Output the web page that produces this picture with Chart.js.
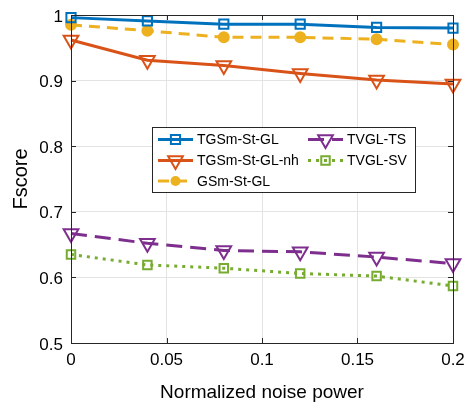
<!DOCTYPE html>
<html>
<head>
<meta charset="utf-8">
<script src="https://cdn.jsdelivr.net/npm/chart.js@4/dist/chart.umd.min.js"></script>
<style>
  html, body { margin: 0; padding: 0; background: #fff; }
  #wrap { width: 466px; height: 404px; }
</style>
</head>
<body>
<div id="wrap"><canvas id="fscoreChart" width="466" height="404"></canvas></div>
<script>
const noisePower = [0, 0.04, 0.08, 0.12, 0.16, 0.2];
const tgsmStGl = [0.996, 0.991, 0.986, 0.986, 0.981, 0.980];
const tgsmStGlNh = [0.962, 0.931, 0.923, 0.911, 0.901, 0.895];
const gsmStGl = [0.985, 0.976, 0.966, 0.966, 0.963, 0.955];
const tvglTs = [0.667, 0.652, 0.641, 0.639, 0.631, 0.621];
const tvglSv = [0.635, 0.619, 0.614, 0.606, 0.602, 0.587];
const xTicks = [0, 0.05, 0.1, 0.15, 0.2];
const yTicks = [0.5, 0.6, 0.7, 0.8, 0.9, 1];

const FONT = '"Liberation Sans", Arial, Helvetica, sans-serif';
const AXIS = '#262626';

function pts(ys) {
    return noisePower.map((x, i) => ({ x: x, y: ys[i] }));
}

const series = [
    { label: 'TGSm-St-GL', data: tgsmStGl, color: '#0072BD', dash: [], style: 'rect', r: 6.5, rot: 0, fill: false },
    { label: 'TGSm-St-GL-nh', data: tgsmStGlNh, color: '#D95319', dash: [], style: 'triangle', r: 8.5, rot: 180, fill: false },
    { label: 'GSm-St-GL', data: gsmStGl, color: '#EDB120', dash: [11, 7], style: 'circle', r: 5, rot: 0, fill: true },
    { label: 'TVGL-TS', data: tvglTs, color: '#7E2F8E', dash: [16, 8], style: 'triangle', r: 8.5, rot: 180, fill: false },
    { label: 'TVGL-SV', data: tvglSv, color: '#77AC30', dash: [3, 5], style: 'rect', r: 6, rot: 0, fill: false }
];

// inward ticks on all four sides + box top/right
const boxPlugin = {
    id: 'boxPlugin',
    afterDatasetsDraw(chart) {
        const { ctx, chartArea: a, scales } = chart;
        ctx.save();
        ctx.strokeStyle = AXIS;
        ctx.lineWidth = 1;
        ctx.beginPath();
        xTicks.forEach(v => {
            const px = Math.round(scales.x.getPixelForValue(v)) + 0.5;
            ctx.moveTo(px, a.bottom); ctx.lineTo(px, a.bottom - 5);
            ctx.moveTo(px, a.top); ctx.lineTo(px, a.top + 5);
        });
        yTicks.forEach(v => {
            const py = Math.round(scales.y.getPixelForValue(v)) + 0.5;
            ctx.moveTo(a.left, py); ctx.lineTo(a.left + 5, py);
            ctx.moveTo(a.right, py); ctx.lineTo(a.right - 5, py);
        });
        ctx.stroke();
        ctx.strokeRect(Math.round(a.left) + 0.5, Math.round(a.top) + 0.5,
            Math.round(a.right - a.left), Math.round(a.bottom - a.top));
        ctx.restore();
    }
};

function drawMarker(ctx, s, x, y) {
    ctx.save();
    ctx.setLineDash([]);
    ctx.lineWidth = 2;
    ctx.strokeStyle = s.color;
    ctx.fillStyle = s.color;
    ctx.beginPath();
    if (s.style === 'rect') {
        const h = s.r * Math.SQRT1_2;
        ctx.rect(x - h, y - h, 2 * h, 2 * h);
        ctx.stroke();
    } else if (s.style === 'triangle') {
        const r = s.r;
        ctx.moveTo(x, y + r);
        ctx.lineTo(x - r * 0.866, y - r / 2);
        ctx.lineTo(x + r * 0.866, y - r / 2);
        ctx.closePath();
        ctx.stroke();
    } else {
        ctx.arc(x, y, s.r, 0, Math.PI * 2);
        ctx.fill();
    }
    ctx.restore();
}

const legendPlugin = {
    id: 'legendPlugin',
    afterDraw(chart) {
        const ctx = chart.ctx;
        const bx = 152, by = 127, bw = 263, bh = 65;
        ctx.save();
        ctx.fillStyle = '#fff';
        ctx.fillRect(bx, by, bw, bh);
        ctx.strokeStyle = AXIS;
        ctx.lineWidth = 1;
        ctx.strokeRect(bx + 0.5, by + 0.5, bw, bh);
        const slots = [
            { x: 158, y: 139.5 }, { x: 158, y: 160.5 }, { x: 158, y: 181 },
            { x: 308, y: 139.5 }, { x: 308, y: 160.5 }
        ];
        ctx.font = '14px ' + FONT;
        ctx.textBaseline = 'middle';
        series.forEach((s, i) => {
            const p = slots[i];
            ctx.strokeStyle = s.color;
            ctx.lineWidth = 3;
            ctx.setLineDash(s.dash);
            ctx.beginPath();
            ctx.moveTo(p.x, p.y);
            ctx.lineTo(p.x + 35, p.y);
            ctx.stroke();
            drawMarker(ctx, s, p.x + 17.5, p.y);
            ctx.fillStyle = '#000';
            ctx.fillText(s.label, p.x + 39, p.y + 1);
        });
        ctx.restore();
    }
};

new Chart(document.getElementById('fscoreChart'), {
    type: 'line',
    data: {
        datasets: series.map(s => ({
            label: s.label,
            data: pts(s.data),
            borderColor: s.color,
            backgroundColor: s.fill ? s.color : 'rgba(0,0,0,0)',
            borderWidth: 3,
            borderDash: s.dash,
            pointStyle: s.style,
            pointRadius: s.r,
            pointRotation: s.rot,
            pointBorderWidth: 2,
            pointBorderColor: s.color,
            pointBackgroundColor: s.fill ? s.color : 'rgba(0,0,0,0)',
            tension: 0,
            clip: false
        }))
    },
    options: {
        responsive: false,
        animation: false,
        events: [],
        layout: { autoPadding: false, padding: { top: 15, right: 13, left: 1, bottom: 0 } },
        plugins: {
            legend: { display: false },
            tooltip: { enabled: false }
        },
        scales: {
            x: {
                type: 'linear',
                min: 0,
                max: 0.2,
                afterBuildTicks: sc => { sc.ticks = xTicks.map(v => ({ value: v })); },
                afterFit: sc => { sc.height = 61; sc.paddingLeft = 0; sc.paddingRight = 0; },
                ticks: {
                    color: '#000',
                    font: { family: FONT, size: 17 },
                    padding: 7,
                    maxRotation: 0,
                    callback: v => String(v)
                },
                grid: { color: '#e3e3e3', drawTicks: false },
                border: { color: AXIS, width: 1 },
                title: {
                    display: true,
                    text: 'Normalized noise power',
                    color: '#000',
                    font: { family: FONT, size: 19 },
                    padding: { top: 4, bottom: 0 }
                }
            },
            y: {
                type: 'linear',
                min: 0.5,
                max: 1,
                afterBuildTicks: sc => { sc.ticks = yTicks.map(v => ({ value: v })); },
                afterFit: sc => { sc.width = 70; sc.paddingTop = 0; sc.paddingBottom = 0; },
                ticks: {
                    color: '#000',
                    font: { family: FONT, size: 17 },
                    padding: 8,
                    labelOffset: 2,
                    callback: v => String(v)
                },
                grid: { color: '#e3e3e3', drawTicks: false },
                border: { color: AXIS, width: 1 },
                title: {
                    display: true,
                    text: 'Fscore',
                    color: '#000',
                    font: { family: FONT, size: 20 },
                    padding: { top: 8, bottom: 0 }
                }
            }
        }
    },
    plugins: [boxPlugin, legendPlugin]
});
</script>
</body>
</html>
